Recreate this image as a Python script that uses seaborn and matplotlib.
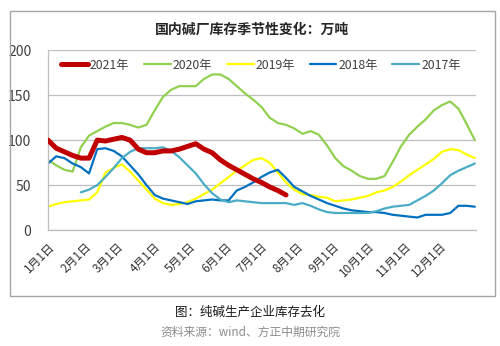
import numpy as np
import pandas as pd
import matplotlib
matplotlib.use("Agg")
import matplotlib.pyplot as plt
from matplotlib.patches import Rectangle
import seaborn as sns

sns.set_theme(style="white")
plt.rcParams['font.family'] = ['Noto Sans CJK SC', 'DejaVu Sans']

# weekly samples, day-of-year
days = list(range(0, 365, 7)) + [364]

y2021 = [100, 91, 87, 83, 80, 80, 100, 99, 101, 103, 100, 90, 86, 86, 88, 88, 90, 93, 96, 90,
         86, 78, 72, 67, 62, 57, 53, 48, 44, 39]
y2020 = [78, 72, 67, 65, 92, 105, 110, 115, 119, 119, 117, 114, 117, 133, 148, 156, 160, 160, 160, 168,
         173, 173, 168, 160, 152, 145, 137, 125, 119, 117, 113, 107, 110, 106, 94, 80, 71, 66, 60, 57,
         57, 60, 76, 93, 106, 115, 123, 133, 139, 143, 135, 118, 100]
y2019 = [26, 29, 31, 32, 33, 34, 42, 64, 69, 73, 65, 55, 45, 35, 30, 28, 29, 31, 35, 40,
         45, 52, 59, 66, 72, 78, 80, 75, 64, 53, 45, 40, 39, 37, 36, 32, 33, 34, 36, 38,
         42, 44, 48, 54, 61, 67, 73, 79, 87, 90, 89, 84, 80]
y2018 = [74, 82, 80, 74, 70, 63, 90, 91, 88, 82, 72, 62, 50, 39, 35, 33, 31, 29, 32, 33,
         34, 33, 33, 44, 48, 53, 59, 64, 67, 58, 48, 43, 38, 34, 30, 27, 24, 22, 21, 20,
         20, 19, 17, 16, 15, 14, 17, 17, 17, 19, 27, 27, 26]
y2017 = [np.nan, np.nan, np.nan, np.nan, 42, 45, 50, 59, 69, 80, 87, 91, 91, 91, 92, 88, 81, 72, 63, 51,
         41, 34, 31, 33, 32, 31, 30, 30, 30, 30, 28, 30, 27, 23, 20, 19, 19, 19, 19, 19,
         21, 24, 26, 27, 28, 33, 38, 44, 52, 61, 66, 70, 74]

series = {"2021年": y2021, "2020年": y2020, "2019年": y2019, "2018年": y2018, "2017年": y2017}
colors = {"2021年": "#C00000", "2020年": "#92D050", "2019年": "#FFFF00",
          "2018年": "#0070C0", "2017年": "#4BACC6"}
widths = {"2021年": 3.6, "2020年": 1.6, "2019年": 1.6, "2018年": 1.6, "2017年": 1.6}

month_ticks = [0, 31, 59, 90, 120, 151, 181, 212, 243, 273, 304, 334]
month_labels = [f"{m}月1日" for m in range(1, 13)]

rows = []
for name, vals in series.items():
    for d, v in zip(days, vals):
        rows.append({"day": d, "value": v, "year": name})
df = pd.DataFrame(rows)

fig = plt.figure(figsize=(5.0, 3.46), dpi=100)
ax = fig.add_axes([0.096, 0.335, 0.856, 0.52])

for name in series:
    sub = df[df["year"] == name].dropna()
    sns.lineplot(data=sub, x="day", y="value", ax=ax, color=colors[name],
                 linewidth=widths[name], label=name, zorder=3 if name == "2021年" else 2)

ax.set_xlim(0, 365)
ax.set_ylim(0, 200)
ax.set_yticks([0, 50, 100, 150, 200])
ax.set_xticks(month_ticks)
ax.set_xticklabels(month_labels, rotation=45, ha="right", rotation_mode="anchor",
                   fontsize=8.5, color="#333333")
ax.tick_params(axis="x", length=0, pad=7)
ax.tick_params(axis="y", length=0, pad=12, labelsize=10, labelcolor="#404040")
ax.set_xlabel("")
ax.set_ylabel("")
ax.grid(axis="y", color="#BFBFBF", linewidth=0.9)
ax.grid(axis="x", visible=False)
for s in ["top", "right"]:
    ax.spines[s].set_visible(False)
for s in ["left", "bottom"]:
    ax.spines[s].set_color("#BFBFBF")
    ax.spines[s].set_linewidth(0.9)

leg = ax.legend(loc="upper left", bbox_to_anchor=(0.01, 1.0), ncol=5, frameon=False,
                fontsize=8.8, handlelength=2.2, handletextpad=0.15, columnspacing=1.2,
                borderaxespad=0.3)
for t in leg.get_texts():
    t.set_color("#404040")

fig.text(0.504, 0.913, "国内碱厂库存季节性变化：万吨", ha="center", va="center",
         fontsize=10, fontweight="bold", color="#262626")

fig.patches.append(Rectangle((0.02, 1 - 296 / 346), 0.97, (296 - 11) / 346,
                             transform=fig.transFigure, fill=False,
                             edgecolor="#A6A6A6", linewidth=1.0))

fig.text(0.5, 1 - 312 / 346, "图：纯碱生产企业库存去化", ha="center", va="center",
         fontsize=9, color="#1a1a1a")
fig.text(0.5, 1 - 332 / 346, "资料来源：wind、方正中期研究院", ha="center", va="center",
         fontsize=8.5, color="#8c8c8c")

fig.savefig("out.png", dpi=100)
